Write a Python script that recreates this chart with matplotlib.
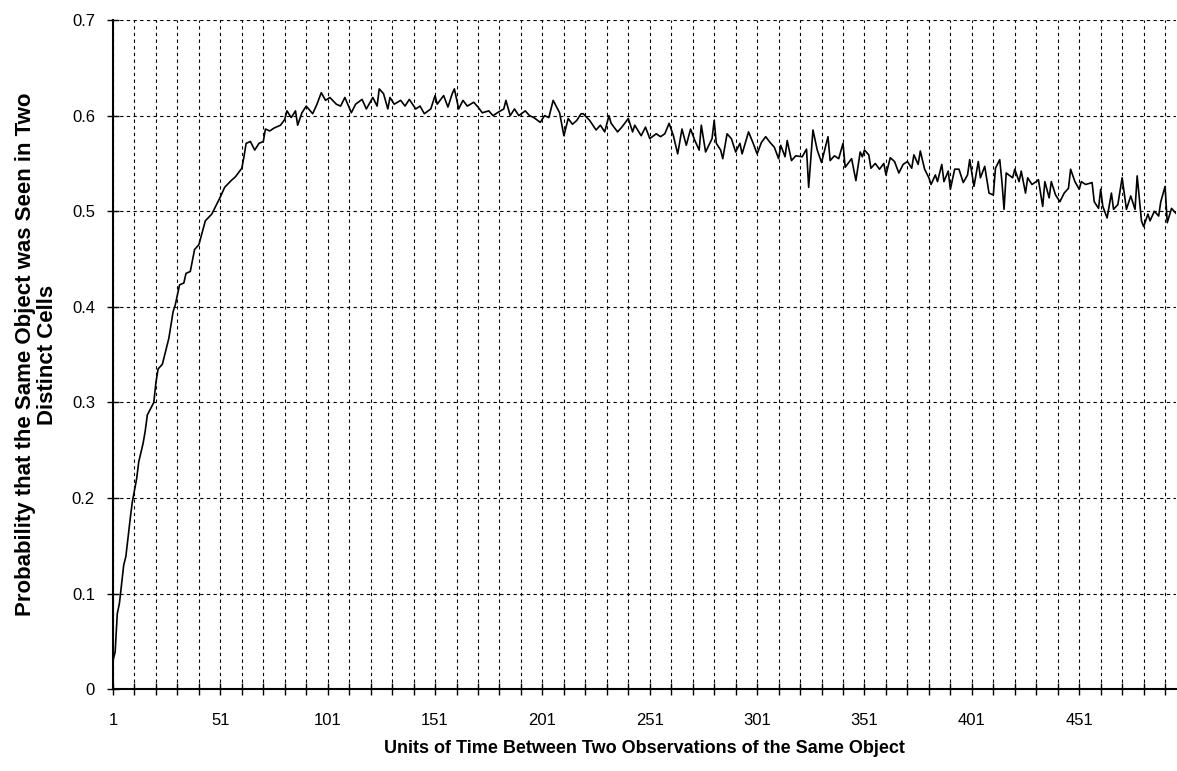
import matplotlib
matplotlib.use('Agg')
import matplotlib.pyplot as plt

# time lag (units) and probability
lag = [1, 2, 3, 4, 6, 7, 9, 10, 12, 13, 15, 16, 17, 20, 21, 22, 24, 27, 29, 30,
       32, 34, 35, 37, 39, 41, 44, 47, 49, 51, 53, 56, 58, 61, 62, 63, 65, 67, 69, 71,
       72, 74, 76, 79, 81, 82, 84, 86, 87, 89,
       91, 94, 96, 98, 100, 102, 105, 107, 109, 112, 114, 117, 119, 122, 124, 125, 127, 129, 130, 132,
       135, 137, 139, 142, 144, 146, 149, 151, 152, 155, 157, 159, 160, 162, 164, 166, 169, 171, 173, 176,
       178, 180, 183, 184, 186, 188, 190, 193, 195, 197, 200, 202, 204, 206, 209, 211, 213, 215, 217, 219,
       220, 223, 226, 228, 230, 232, 233, 236, 238, 241, 243, 244, 247, 249, 251, 254, 256, 258, 260, 262,
       264, 266, 268, 270, 272, 274, 275, 277, 280, 281, 282, 284, 285, 287, 289, 291, 293, 294, 297, 299,
       301, 303, 305, 307, 309, 311, 312, 314, 315, 317, 319, 322, 324, 325, 327, 329, 331, 332, 334, 335,
       337, 339, 341, 342, 345, 347, 349,
       350, 351, 353, 354, 356, 358, 360, 361, 363, 365, 367, 369, 371, 373, 374, 376, 377, 379, 381, 382,
       384, 385, 387, 388, 390, 391, 393, 395, 397, 399, 400, 402, 404, 405, 407, 409, 411, 412, 414, 415,
       416, 417, 420, 421, 423, 424, 426, 427, 429, 431, 432, 434, 435, 437, 438, 440, 442, 444, 446, 447,
       449, 451, 452, 454, 457, 458, 460, 461, 462, 464, 466, 467, 469, 471, 473, 475, 477, 478, 480, 481,
       483, 484, 486, 488, 489, 491, 492, 494, 496]

prob = [0.030, 0.039, 0.079, 0.090, 0.130, 0.139, 0.178, 0.196, 0.220, 0.238, 0.257, 0.270, 0.287, 0.300, 0.321, 0.335, 0.340, 0.367, 0.395, 0.402,
        0.423, 0.425, 0.435, 0.437, 0.460, 0.465, 0.490, 0.497, 0.506, 0.515, 0.525, 0.532, 0.536, 0.545, 0.557, 0.571, 0.573, 0.564, 0.571, 0.573,
        0.586, 0.584, 0.587, 0.590, 0.596, 0.605, 0.598, 0.605, 0.590, 0.603,
        0.610, 0.602, 0.612, 0.624, 0.616, 0.619, 0.612, 0.610, 0.619, 0.603, 0.612, 0.617, 0.607, 0.619, 0.610, 0.628, 0.623, 0.607, 0.619, 0.612,
        0.616, 0.610, 0.617, 0.607, 0.610, 0.602, 0.607, 0.621, 0.612, 0.621, 0.609, 0.623, 0.628, 0.607, 0.616, 0.610, 0.614, 0.609, 0.603, 0.605,
        0.600, 0.603, 0.607, 0.616, 0.600, 0.607, 0.600, 0.605, 0.600, 0.598, 0.593, 0.600, 0.598, 0.616, 0.603, 0.579, 0.597, 0.591, 0.595, 0.602,
        0.602, 0.595, 0.585, 0.590, 0.583, 0.600, 0.592, 0.583, 0.588, 0.597, 0.583, 0.590, 0.579, 0.588, 0.576, 0.581, 0.578, 0.581, 0.592, 0.579,
        0.560, 0.586, 0.569, 0.586, 0.574, 0.564, 0.590, 0.562, 0.576, 0.595, 0.571, 0.564, 0.555, 0.581, 0.576, 0.562, 0.571, 0.560, 0.583, 0.572,
        0.560, 0.572, 0.578, 0.572, 0.567, 0.555, 0.569, 0.557, 0.574, 0.553, 0.558, 0.557, 0.565, 0.525, 0.585, 0.564, 0.551, 0.560, 0.578, 0.553,
        0.558, 0.555, 0.571, 0.546, 0.555, 0.532, 0.562,
        0.557, 0.564, 0.559, 0.545, 0.550, 0.544, 0.550, 0.538, 0.556, 0.552, 0.540, 0.549, 0.552, 0.545, 0.559, 0.549, 0.563, 0.544, 0.535, 0.528,
        0.538, 0.531, 0.549, 0.531, 0.542, 0.523, 0.544, 0.544, 0.530, 0.538, 0.554, 0.526, 0.552, 0.535, 0.547, 0.519, 0.517, 0.545, 0.554, 0.531,
        0.502, 0.540, 0.535, 0.544, 0.531, 0.542, 0.519, 0.535, 0.528, 0.531, 0.533, 0.505, 0.531, 0.514, 0.531, 0.517, 0.510, 0.519, 0.524, 0.544,
        0.531, 0.523, 0.531, 0.528, 0.530, 0.510, 0.503, 0.523, 0.505, 0.493, 0.519, 0.502, 0.507, 0.535, 0.502, 0.516, 0.502, 0.537, 0.490, 0.484,
        0.497, 0.490, 0.500, 0.495, 0.510, 0.526, 0.488, 0.503, 0.498]

x_labels = ['1', '51', '101', '151', '201', '251', '301', '351', '401', '451']
y_labels = ['0', '0.1', '0.2', '0.3', '0.4', '0.5', '0.6', '0.7']


def main():
    plt.rcParams['font.family'] = ['Liberation Sans', 'DejaVu Sans']
    fig = plt.figure(figsize=(11.77, 7.71), dpi=100)
    ax = fig.add_axes([0.096, 0.106, 0.903, 0.868])

    ax.plot(lag, prob, color='black', linewidth=1.2)

    ax.set_xlim(1, 496)
    ax.set_ylim(0, 0.7)

    ax.set_xticks([int(s) for s in x_labels])
    ax.set_xticklabels(x_labels)
    ax.set_xticks(list(range(11, 496, 10)), minor=True)
    ax.set_yticks([float(s) for s in y_labels])
    ax.set_yticklabels(y_labels)

    ax.tick_params(which='both', direction='inout', length=8, width=1, labelsize=12, colors='black')
    ax.tick_params(axis='x', pad=13)
    ax.tick_params(axis='y', pad=9)

    ax.grid(True, which='both', color='black', linestyle=(0, (3, 3)), linewidth=0.8)
    ax.set_axisbelow(True)

    for side in ['top', 'right']:
        ax.spines[side].set_visible(False)
    for side in ['left', 'bottom']:
        ax.spines[side].set_linewidth(1.5)

    ax.set_xlabel('Units of Time Between Two Observations of the Same Object',
                  fontsize=13, fontweight='bold', labelpad=9)
    ax.set_ylabel('Probability that the Same Object was Seen in Two\nDistinct Cells',
                  fontsize=16, fontweight='bold', labelpad=10, linespacing=1.05)

    fig.savefig('out.png', dpi=100)


if __name__ == '__main__':
    main()
